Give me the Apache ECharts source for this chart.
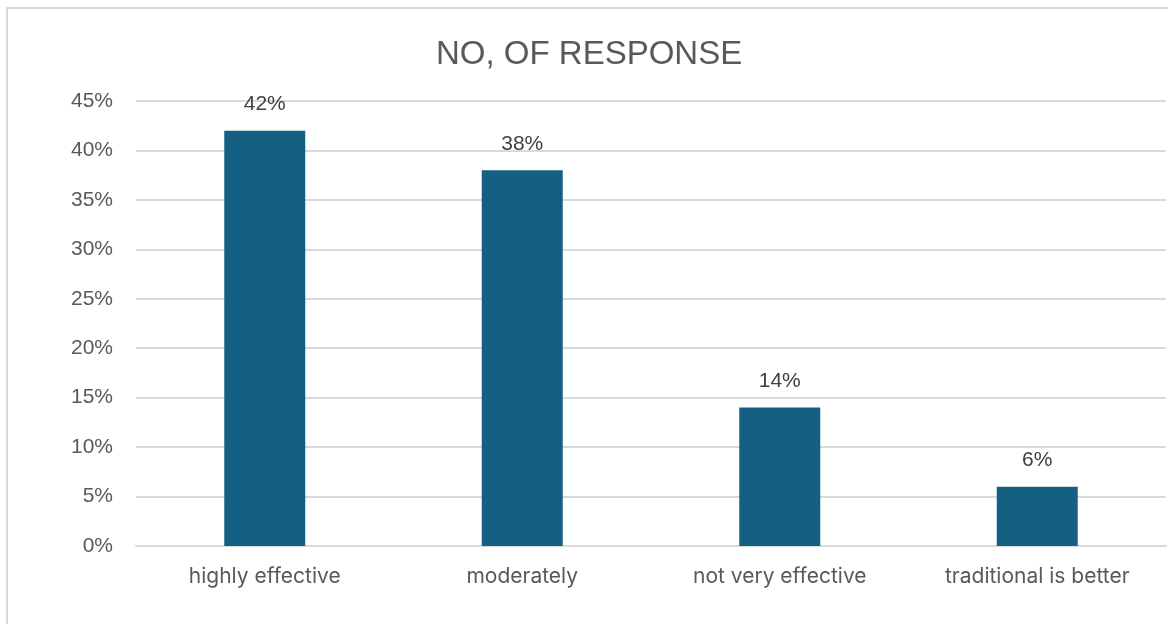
<!DOCTYPE html>
<html>
<head>
<meta charset="utf-8">
<script src="https://cdn.jsdelivr.net/npm/echarts@6/dist/echarts.min.js"></script>
<style>
  html, body { margin: 0; padding: 0; background: #fff; }
  #chart { width: 1168px; height: 624px; }
</style>
</head>
<body>
<div id="chart"></div>
<script>
// Survey answers and their share of responses (%)
const categories = ['highly effective', 'moderately', 'not very effective', 'traditional is better'];
const shares = [42, 38, 14, 6];
const yTicks = { min: 0, max: 45, step: 5 };

const chart = echarts.init(document.getElementById('chart'));
const font = '"Liberation Sans", Arial, sans-serif';
const catFont = 'Inter, "Liberation Sans", sans-serif';

chart.setOption({
  animation: false,
  textStyle: { fontFamily: font },
  graphic: [{
    type: 'rect',
    shape: { x: 7, y: 8, width: 1220, height: 700 },
    style: { fill: 'none', stroke: '#d9d9d9', lineWidth: 2 },
    silent: true
  }],
  title: {
    text: 'NO, OF RESPONSE',
    left: 431,
    top: 33,
    textStyle: { fontFamily: font, fontSize: 33, fontWeight: 'normal', color: '#595959' }
  },
  grid: { left: 136, right: 2, top: 101, bottom: 78 },
  xAxis: {
    type: 'category',
    data: categories,
    axisTick: { show: false },
    axisLine: { lineStyle: { color: '#d9d9d9', width: 2 } },
    axisLabel: { color: '#595959', fontSize: 21, margin: 20, fontFamily: catFont }
  },
  yAxis: {
    type: 'value',
    min: yTicks.min,
    max: yTicks.max,
    interval: yTicks.step,
    axisLine: { show: false },
    axisTick: { show: false },
    splitLine: { lineStyle: { color: '#d9d9d9', width: 2 } },
    axisLabel: { color: '#595959', fontSize: 21, margin: 23, formatter: '{value}%', fontFamily: font }
  },
  series: [{
    type: 'bar',
    data: shares,
    barWidth: 81,
    itemStyle: { color: '#156082' },
    label: {
      show: true,
      position: 'top',
      distance: 16,
      formatter: '{c}%',
      color: '#404040',
      fontSize: 21,
      fontFamily: font
    }
  }]
});
</script>
</body>
</html>
